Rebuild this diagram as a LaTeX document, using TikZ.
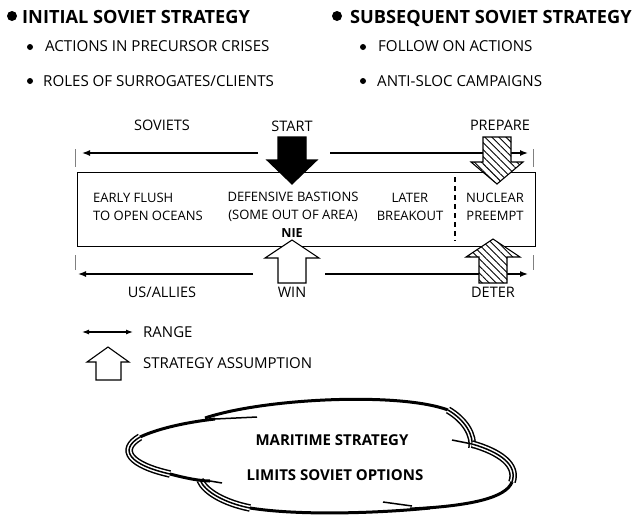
\documentclass[tikz,border=0pt]{standalone}
\usepackage{fontspec}
\setmainfont{Open Sans}
\usetikzlibrary{arrows.meta, positioning, patterns.meta}

\begin{document}
\begin{tikzpicture}[x=1pt, y=-1pt,
    % Styles
    heading/.style={
        anchor=base west,
        inner sep=0pt,
        font=\fontsize{18.2}{21}\selectfont\bfseries
    },
    item/.style={
        anchor=base west,
        inner sep=0pt,
        font=\fontsize{15.1}{18}\selectfont
    },
    tag/.style={
        anchor=base,
        inner sep=0pt,
        font=\fontsize{14.5}{17}\selectfont
    },
    phase/.style={
        inner sep=0pt,
        align=#1,
        font=\fontsize{13}{18}\selectfont
    },
    phase/.default=center,
    dot/.style={
        circle,
        fill=black,
        inner sep=0pt,
        minimum size=#1
    },
    span/.style={
        line width=1.4pt,
        -{Latex[length=8pt, width=6pt]}
    },
    tick/.style={
        gray,
        line width=0.8pt
    },
    blockarrow/.style={
        draw=black,
        line width=1.1pt,
        fill=#1
    },
    blockarrow/.default=white,
    hatched/.style={
        draw=black,
        line width=1.1pt,
        preaction={fill=white},
        pattern={Lines[angle=-45, distance=5pt, line width=0.9pt]}
    },
    stroke/.style={
        line width=3pt
    },
    triple/.style={
        line width=7.6pt,
        postaction={draw=white, line width=4.6pt},
        postaction={draw=black, line width=1.5pt}
    },
    tail/.style={
        line width=1.5pt
    }
]
\useasboundingbox (0,0) rectangle (635,515);

% Soviet strategy lists
\node[dot=10pt] (dotA) at (12,16) {};
\node[heading] (initial) at (22,23) {INITIAL SOVIET STRATEGY};
\node[dot=6pt] (dotA1) at (30,47) {};
\node[item] (crises) at (45,51.4) {ACTIONS IN PRECURSOR CRISES};
\node[dot=6pt] (dotA2) at (30,81) {};
\node[item] (clients) at (43,86.4) {ROLES OF SURROGATES/CLIENTS};

\node[dot=10pt] (dotB) at (337,16) {};
\node[heading] (subsequent) at (350,23) {SUBSEQUENT SOVIET STRATEGY};
\node[dot=6pt] (dotB1) at (363,47) {};
\node[item] (follow) at (378,51.4) {FOLLOW ON ACTIONS};
\node[dot=6pt] (dotB2) at (363,81) {};
\node[item] (sloc) at (377,86.4) {ANTI-SLOC CAMPAIGNS};

% Conflict bar
\draw[line width=1pt] (77,172) rectangle (535,246);
\draw[line width=1.2pt, dash pattern=on 5pt off 4pt] (455,177) -- (455,241);

\node[phase=left, anchor=west] (flush) at (93,207) {EARLY FLUSH\\TO OPEN OCEANS};
\node[phase] (bastions) at (293,207) {DEFENSIVE BASTIONS\\(SOME OUT OF AREA)};
\node[inner sep=0pt, font=\fontsize{12.5}{15}\selectfont\bfseries] (nie) at (292,233) {NIE};
\node[phase] (breakout) at (410,207) {LATER\\BREAKOUT};
\node[phase] (preempt) at (495,207) {NUCLEAR\\PREEMPT};

% Range ticks
\draw[tick] (75,149) -- (75,167);
\draw[tick] (533,149) -- (533,167);
\draw[tick] (75,255) -- (75,270);
\draw[tick] (533,255) -- (533,270);

% Ranges
\coordinate (sovL) at (258,153);
\coordinate (sovLend) at (82,153);
\coordinate (sovR) at (330,153);
\coordinate (sovRend) at (528,153);
\coordinate (usL) at (253,274);
\coordinate (usLend) at (78,274);
\coordinate (usR) at (325,274);
\coordinate (usRend) at (528,274);
\draw[span] (sovL) -- (sovLend);
\draw[span] (sovR) -- (sovRend);
\draw[span] (usL) -- (usLend);
\draw[span] (usR) -- (usRend);

% Strategy assumptions
\draw[blockarrow=black] (278,137) -- (306,137) -- (306,160) -- (317,160) -- (292,184) -- (267,160) -- (278,160) -- cycle;
\draw[hatched] (483,137) -- (511,137) -- (511,162) -- (523,162) -- (497,184) -- (471,162) -- (483,162) -- cycle;
\draw[blockarrow] (278,283) -- (306,283) -- (306,258) -- (319,258) -- (292,240) -- (265,258) -- (278,258) -- cycle;
\draw[hatched] (479,283) -- (507,283) -- (507,257) -- (520,257) -- (493,239) -- (466,257) -- (479,257) -- cycle;

\node[tag] (soviets) at (162,130.6) {SOVIETS};
\node[tag] (start) at (292,131.6) {START};
\node[tag] (prepare) at (500,130.6) {PREPARE};
\node[tag] (allies) at (162,297.6) {US/ALLIES};
\node[tag] (win) at (292,297.6) {WIN};
\node[tag] (deter) at (493,297.6) {DETER};

% Legend
\coordinate (keyL) at (82,332);
\coordinate (keyR) at (133,332);
\draw[line width=1.2pt, {Latex[length=7pt, width=5pt]}-{Latex[length=7pt, width=5pt]}] (keyL) -- (keyR);
\node[item, font=\fontsize{15}{18}\selectfont] (rangekey) at (143,337.3) {RANGE};
\draw[blockarrow] (96,380) -- (121,380) -- (121,362) -- (129,362) -- (108,347) -- (87,362) -- (96,362) -- cycle;
\node[item, font=\fontsize{15}{18}\selectfont] (assumekey) at (143,368.3) {STRATEGY ASSUMPTION};

% Cloud
\draw[stroke] (205,418) .. controls (265,398) and (400,392) .. (448,410);
\draw[triple] (448,410) .. controls (465,420) and (474,435) .. (472,448);
\draw[tail] (452,440) -- (472,444);
\draw[triple] (472,444) .. controls (500,452) and (518,465) .. (512,482);
\draw[stroke] (512,482) .. controls (506,498) and (470,506) .. (410,509);
\draw[tail] (412,506) -- (383,502);
\draw[triple] (200,480) .. controls (205,492) and (225,503) .. (250,508);
\draw[stroke] (250,508) .. controls (300,516) and (380,513) .. (430,508);
\draw[tail] (257,417) -- (215,419);
\draw[stroke] (215,419) .. controls (180,423) and (155,430) .. (140,437);
\draw[triple] (140,437) .. controls (118,450) and (130,465) .. (170,474);
\draw[stroke] (170,474) .. controls (185,478) and (200,481) .. (210,481);
\draw[tail] (210,481) -- (222,483);

\node[anchor=base, inner sep=0pt, font=\fontsize{15}{18}\selectfont\bfseries] (maritime) at (332,445.4) {MARITIME STRATEGY};
\node[anchor=base, inner sep=0pt, font=\fontsize{15}{18}\selectfont\bfseries] (limits) at (335,480.4) {LIMITS SOVIET OPTIONS};

\end{tikzpicture}
\end{document}
